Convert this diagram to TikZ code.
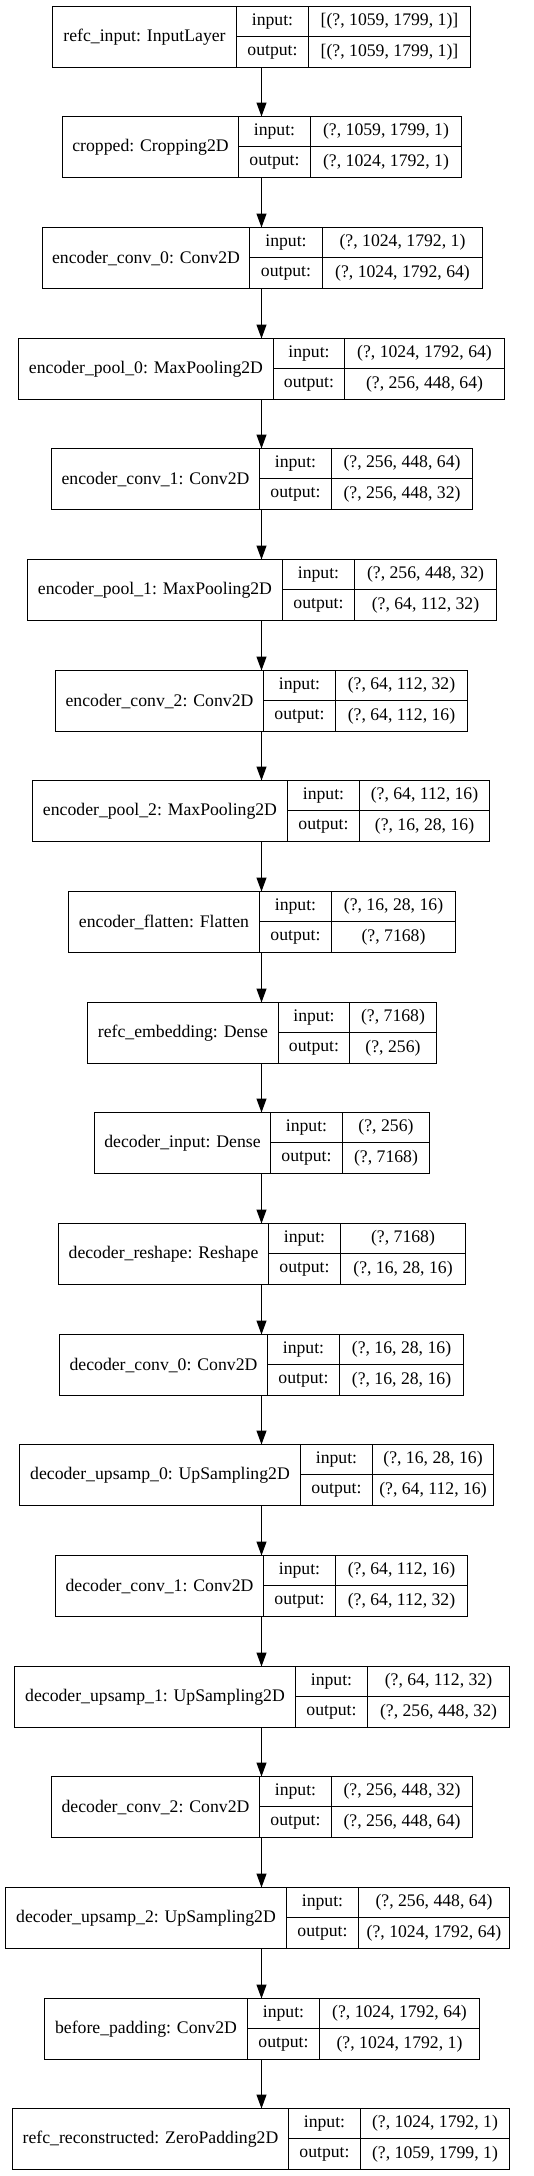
\documentclass[tikz,border=0pt]{standalone}
\usepackage{fontspec}
\setmainfont{Liberation Serif}
\usetikzlibrary{arrows.meta}

\tikzset{
  cell/.style={rectangle,draw,line width=1.2pt,inner sep=0pt,outer sep=0pt,
    font=\fontsize{17.7}{20}\selectfont},
  box/.style={rectangle,inner sep=0pt,outer sep=0pt,minimum height=61pt},
  conn/.style={line width=1.2pt,-{Triangle[length=14pt,width=10pt]}}
}

% \layer{name}{row}{left}{div1}{div2}{right}{label}{input}{output}
\newcommand\layer[9]{%
  \pgfmathsetmacro\ltop{round(5.7+(#2-1)*110.66)+0.5}
  \pgfmathsetmacro\la{round(#3)+0.5}
  \pgfmathsetmacro\lb{round(#4)+0.5}
  \pgfmathsetmacro\lc{round(#5)+0.5}
  \pgfmathsetmacro\ld{round(#6)+0.5}
  \node[box,minimum width={(\ld-\la)*1pt}] (#1) at ({(\la+\ld)/2},\ltop+30.5) {};
  \node[cell,minimum width={(\lb-\la)*1pt},minimum height=61pt] (#1-l) at ({(\la+\lb)/2},\ltop+30.5) {#7};
  \node[cell,minimum width={(\lc-\lb)*1pt},minimum height=30pt] (#1-a) at ({(\lb+\lc)/2},\ltop+15) {input:};
  \node[cell,minimum width={(\lc-\lb)*1pt},minimum height=31pt] (#1-b) at ({(\lb+\lc)/2},\ltop+45.5) {output:};
  \node[cell,minimum width={(\ld-\lc)*1pt},minimum height=30pt] (#1-c) at ({(\lc+\ld)/2},\ltop+15) {#8};
  \node[cell,minimum width={(\ld-\lc)*1pt},minimum height=31pt] (#1-d) at ({(\lc+\ld)/2},\ltop+45.5) {#9};
}

\begin{document}
\begin{tikzpicture}[x=1pt,y=-1pt]
\useasboundingbox (0,0) rectangle (533,2176);
\coordinate (axis) at (261.5,0);
\layer{input}{1}{52.3}{235.7}{308}{470}{refc\_input: InputLayer}{[(?, 1059, 1799, 1)]}{[(?, 1059, 1799, 1)]}
\layer{cropped}{2}{61.7}{238.3}{310.3}{461.3}{cropped: Cropping2D}{(?, 1059, 1799, 1)}{(?, 1024, 1792, 1)}
\layer{econv0}{3}{41.7}{249.3}{321.7}{481.7}{encoder\_conv\_0: Conv2D}{(?, 1024, 1792, 1)}{(?, 1024, 1792, 64)}
\layer{epool0}{4}{18.3}{273}{344.3}{504.3}{encoder\_pool\_0: MaxPooling2D}{(?, 1024, 1792, 64)}{(?, 256, 448, 64)}
\layer{econv1}{5}{50.7}{258.7}{330.7}{472}{encoder\_conv\_1: Conv2D}{(?, 256, 448, 64)}{(?, 256, 448, 32)}
\layer{epool1}{6}{26.7}{282}{354}{496}{encoder\_pool\_1: MaxPooling2D}{(?, 256, 448, 32)}{(?, 64, 112, 32)}
\layer{econv2}{7}{55.3}{263.3}{335.3}{467.3}{encoder\_conv\_2: Conv2D}{(?, 64, 112, 32)}{(?, 64, 112, 16)}
\layer{epool2}{8}{31.7}{286.7}{359}{489}{encoder\_pool\_2: MaxPooling2D}{(?, 64, 112, 16)}{(?, 16, 28, 16)}
\layer{flatten}{9}{67.7}{259}{330.7}{455.3}{encoder\_flatten: Flatten}{(?, 16, 28, 16)}{(?, 7168)}
\layer{embed}{10}{86.7}{277.7}{349.3}{436}{refc\_embedding: Dense}{(?, 7168)}{(?, 256)}
\layer{dinput}{11}{94}{270.3}{342.3}{428.7}{decoder\_input: Dense}{(?, 256)}{(?, 7168)}
\layer{reshape}{12}{58}{268.3}{340.3}{464.7}{decoder\_reshape: Reshape}{(?, 7168)}{(?, 16, 28, 16)}
\layer{dconv0}{13}{59.3}{267}{339}{463.3}{decoder\_conv\_0: Conv2D}{(?, 16, 28, 16)}{(?, 16, 28, 16)}
\layer{dup0}{14}{18.7}{300}{372}{493.3}{decoder\_upsamp\_0: UpSampling2D}{(?, 16, 28, 16)}{(?, 64, 112, 16)}
\layer{dconv1}{15}{55.3}{263.3}{335.3}{467.3}{decoder\_conv\_1: Conv2D}{(?, 64, 112, 16)}{(?, 64, 112, 32)}
\layer{dup1}{16}{14}{295.3}{367.3}{509}{decoder\_upsamp\_1: UpSampling2D}{(?, 64, 112, 32)}{(?, 256, 448, 32)}
\layer{dconv2}{17}{50.7}{258.7}{330.7}{472}{decoder\_conv\_2: Conv2D}{(?, 256, 448, 32)}{(?, 256, 448, 64)}
\layer{dup2}{18}{4.7}{286}{358}{509}{decoder\_upsamp\_2: UpSampling2D}{(?, 256, 448, 64)}{(?, 1024, 1792, 64)}
\layer{before}{19}{44}{246.7}{318.7}{479}{before\_padding: Conv2D}{(?, 1024, 1792, 64)}{(?, 1024, 1792, 1)}
\layer{recon}{20}{12.3}{288}{360}{509}{refc\_reconstructed: ZeroPadding2D}{(?, 1024, 1792, 1)}{(?, 1059, 1799, 1)}
\path[draw,conn] (input.south -| axis) -- (cropped.north -| axis);
\path[draw,conn] (cropped.south -| axis) -- (econv0.north -| axis);
\path[draw,conn] (econv0.south -| axis) -- (epool0.north -| axis);
\path[draw,conn] (epool0.south -| axis) -- (econv1.north -| axis);
\path[draw,conn] (econv1.south -| axis) -- (epool1.north -| axis);
\path[draw,conn] (epool1.south -| axis) -- (econv2.north -| axis);
\path[draw,conn] (econv2.south -| axis) -- (epool2.north -| axis);
\path[draw,conn] (epool2.south -| axis) -- (flatten.north -| axis);
\path[draw,conn] (flatten.south -| axis) -- (embed.north -| axis);
\path[draw,conn] (embed.south -| axis) -- (dinput.north -| axis);
\path[draw,conn] (dinput.south -| axis) -- (reshape.north -| axis);
\path[draw,conn] (reshape.south -| axis) -- (dconv0.north -| axis);
\path[draw,conn] (dconv0.south -| axis) -- (dup0.north -| axis);
\path[draw,conn] (dup0.south -| axis) -- (dconv1.north -| axis);
\path[draw,conn] (dconv1.south -| axis) -- (dup1.north -| axis);
\path[draw,conn] (dup1.south -| axis) -- (dconv2.north -| axis);
\path[draw,conn] (dconv2.south -| axis) -- (dup2.north -| axis);
\path[draw,conn] (dup2.south -| axis) -- (before.north -| axis);
\path[draw,conn] (before.south -| axis) -- (recon.north -| axis);
\end{tikzpicture}
\end{document}
